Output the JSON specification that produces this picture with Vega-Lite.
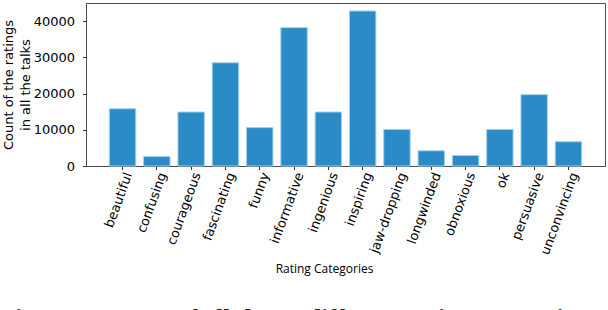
{
  "$schema": "https://vega.github.io/schema/vega-lite/v6.json",
  "width": 519,
  "height": 163,
  "autosize": "none",
  "padding": {"left": 86, "top": 3, "right": 3, "bottom": 144},
  "background": "white",
  "title": {
    "text": "Figure 1: Count of all the 14 different rating categories",
    "orient": "bottom",
    "anchor": "start",
    "frame": "group",
    "font": "Liberation Serif",
    "fontSize": 25,
    "fontWeight": "bold",
    "color": "#222",
    "dx": -86,
    "offset": 33
  },
  "data": {
    "values": [
      {"category": "beautiful", "count": 15800},
      {"category": "confusing", "count": 2600},
      {"category": "courageous", "count": 14900},
      {"category": "fascinating", "count": 28500},
      {"category": "funny", "count": 10600},
      {"category": "informative", "count": 38200},
      {"category": "ingenious", "count": 14900},
      {"category": "inspiring", "count": 42800},
      {"category": "jaw-dropping", "count": 10100},
      {"category": "longwinded", "count": 4200},
      {"category": "obnoxious", "count": 2900},
      {"category": "ok", "count": 10100},
      {"category": "persuasive", "count": 19700},
      {"category": "unconvincing", "count": 6700}
    ]
  },
  "mark": {"type": "bar", "color": "#2a8bc6", "stroke": "#9fd0ee", "strokeWidth": 1},
  "encoding": {
    "x": {
      "field": "category",
      "type": "nominal",
      "sort": null,
      "scale": {"paddingInner": 0.23, "paddingOuter": 0.68},
      "axis": {
        "title": "Rating Categories",
        "labelAngle": -70,
        "labelAlign": "right",
        "labelBaseline": "middle",
        "labelOffset": 6,
        "labelPadding": 3,
        "labelFont": "DejaVu Sans",
        "labelFontSize": 13,
        "labelColor": "black",
        "tickSize": 3.5,
        "tickColor": "#333",
        "domainColor": "#4d4d4d",
        "titleFont": "Open Sans",
        "titleFontSize": 12,
        "titleFontWeight": "normal",
        "titleColor": "black",
        "titleX": 238,
        "titleY": 106,
        "titleBaseline": "alphabetic"
      }
    },
    "y": {
      "field": "count",
      "type": "quantitative",
      "scale": {"domain": [0, 45000], "nice": false},
      "axis": {
        "values": [0, 10000, 20000, 30000, 40000],
        "format": "d",
        "grid": false,
        "title": ["Count of the ratings", "in all the talks"],
        "labelFont": "DejaVu Sans",
        "labelFontSize": 13,
        "labelColor": "black",
        "labelPadding": 8,
        "tickSize": 3.5,
        "tickColor": "#333",
        "domainColor": "#4d4d4d",
        "titleFont": "DejaVu Sans",
        "titleFontSize": 13,
        "titleFontWeight": "normal",
        "titleColor": "black",
        "titleLineHeight": 17,
        "titlePadding": 1
      }
    }
  },
  "config": {
    "view": {"stroke": "#4d4d4d", "strokeWidth": 1}
  }
}
